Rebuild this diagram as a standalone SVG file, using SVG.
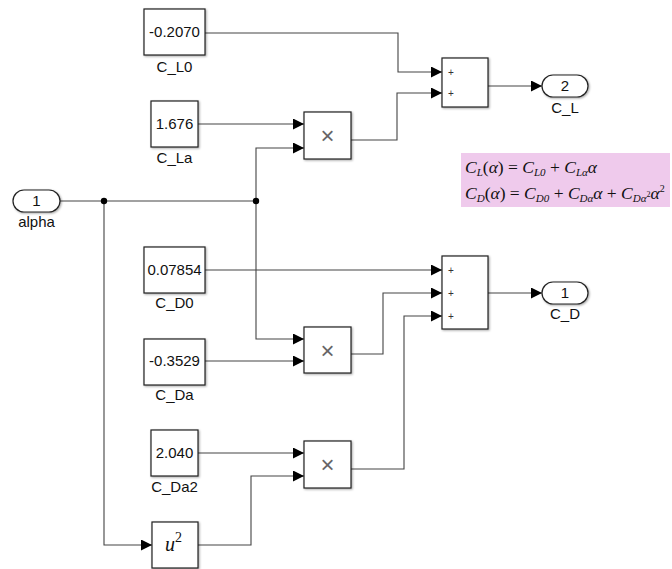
<svg xmlns="http://www.w3.org/2000/svg" width="672" height="569" viewBox="0 0 672 569">
<style>
.blk{fill:#fff;stroke:#222;stroke-width:1.2;filter:url(#sh)}
.port{fill:#fff;stroke:#222;stroke-width:1.2;filter:url(#sh)}
.t{font-family:"Liberation Sans",Arial,sans-serif;font-size:15px;fill:#111;text-anchor:middle}
.pl{font-family:"Liberation Sans",Arial,sans-serif;font-size:10px;fill:#333}
.x{font-family:"Liberation Sans",Arial,sans-serif;font-size:24px;fill:#666;text-anchor:middle;font-weight:300}
.w{fill:none;stroke:#444;stroke-width:1.1}
.eq{font-family:"Liberation Serif","Times New Roman",serif;font-size:17.5px;fill:#111}
.it{font-style:italic}
</style>
<defs>
<filter id="sh" x="-10%" y="-10%" width="130%" height="130%">
<feDropShadow dx="1" dy="1" stdDeviation="0.8" flood-color="#000" flood-opacity="0.35"/>
</filter>
<marker id="ar" markerUnits="userSpaceOnUse" markerWidth="11" markerHeight="11" refX="11" refY="5.5" orient="auto">
<path d="M0,0 L11,5.5 L0,11 z" fill="#000"/>
</marker>
</defs>
<rect width="672" height="569" fill="#fff"/>

<g id="connectors">
<path class="w" d="M205,33 H398 V72 H442" marker-end="url(#ar)"/>
<path class="w" d="M351,140 H397 V93 H442" marker-end="url(#ar)"/>
<path class="w" d="M488,86 H542" marker-end="url(#ar)"/>
<path class="w" d="M198,124 H304" marker-end="url(#ar)"/>
<path class="w" d="M60,201 H256"/>
<path class="w" d="M256,201 V148 H304" marker-end="url(#ar)"/>
<path class="w" d="M256,201 V339 H304" marker-end="url(#ar)"/>
<path class="w" d="M205,361 H304" marker-end="url(#ar)"/>
<path class="w" d="M205,270 H442" marker-end="url(#ar)"/>
<path class="w" d="M351,354 H383 V293 H442" marker-end="url(#ar)"/>
<path class="w" d="M351,469 H404 V316 H442" marker-end="url(#ar)"/>
<path class="w" d="M488,293 H542" marker-end="url(#ar)"/>
<path class="w" d="M198,453 H304" marker-end="url(#ar)"/>
<path class="w" d="M104,201 V545 H152" marker-end="url(#ar)"/>
<path class="w" d="M198,545 H251 V476 H304" marker-end="url(#ar)"/>
<circle cx="104" cy="201" r="3.2" fill="#000"/>
<circle cx="256" cy="201" r="3.2" fill="#000"/>
</g>

<g id="C_L0">
<rect class="blk" x="144" y="9" width="61" height="46"/>
<text class="t" x="174.5" y="37">-0.2070</text>
<text class="t" x="174.5" y="72">C_L0</text>
</g>
<g id="C_La">
<rect class="blk" x="151" y="101" width="47" height="46"/>
<text class="t" x="174.5" y="129">1.676</text>
<text class="t" x="174.5" y="163">C_La</text>
</g>
<g id="alpha">
<rect class="port" x="13" y="190" width="47" height="22" rx="11"/>
<text class="t" x="36.5" y="206">1</text>
<text class="t" x="36.5" y="227">alpha</text>
</g>
<g id="C_D0">
<rect class="blk" x="144" y="247" width="61" height="46"/>
<text class="t" x="174.5" y="275">0.07854</text>
<text class="t" x="174.5" y="308">C_D0</text>
</g>
<g id="C_Da">
<rect class="blk" x="144" y="339" width="61" height="46"/>
<text class="t" x="174.5" y="366">-0.3529</text>
<text class="t" x="174.5" y="400">C_Da</text>
</g>
<g id="C_Da2">
<rect class="blk" x="151" y="430" width="47" height="46"/>
<text class="t" x="174.5" y="458">2.040</text>
<text class="t" x="174.5" y="492">C_Da2</text>
</g>
<g id="square">
<rect class="blk" x="152" y="522" width="46" height="46"/>
<text class="eq" x="165" y="551" style="font-size:20px"><tspan class="it">u</tspan><tspan dy="-9" style="font-size:14px">2</tspan></text>
</g>
<g id="product1">
<rect class="blk" x="304" y="112" width="47" height="47"/>
<text class="x" x="327.5" y="144">×</text>
</g>
<g id="product2">
<rect class="blk" x="304" y="327" width="47" height="46"/>
<text class="x" x="327.5" y="359">×</text>
</g>
<g id="product3">
<rect class="blk" x="304" y="441" width="47" height="47"/>
<text class="x" x="327.5" y="473">×</text>
</g>
<g id="sum1">
<rect class="blk" x="442" y="58" width="46" height="49"/>
<text class="pl" x="448" y="76">+</text>
<text class="pl" x="448" y="97">+</text>
</g>
<g id="sum2">
<rect class="blk" x="442" y="256" width="46" height="73"/>
<text class="pl" x="448" y="274">+</text>
<text class="pl" x="448" y="297">+</text>
<text class="pl" x="448" y="320">+</text>
</g>
<g id="C_L">
<rect class="port" x="542" y="75" width="46" height="22" rx="11"/>
<text class="t" x="565" y="91">2</text>
<text class="t" x="565" y="113">C_L</text>
</g>
<g id="C_D">
<rect class="port" x="542" y="282" width="46" height="22" rx="11"/>
<text class="t" x="565" y="298">1</text>
<text class="t" x="565" y="319">C_D</text>
</g>
<g id="equation">
<rect x="461" y="153" width="209" height="54" fill="#efcaec"/>
<text class="eq" x="465" y="173"><tspan class="it">C</tspan><tspan class="it" dy="3" style="font-size:11px">L</tspan><tspan dy="-3">(</tspan><tspan class="it">α</tspan>) = <tspan class="it">C</tspan><tspan class="it" dy="3" style="font-size:11px">L0</tspan><tspan dy="-3"> + </tspan><tspan class="it">C</tspan><tspan class="it" dy="3" style="font-size:11px">Lα</tspan><tspan class="it" dy="-3">α</tspan></text>
<text class="eq" x="465" y="199"><tspan class="it">C</tspan><tspan class="it" dy="3" style="font-size:11px">D</tspan><tspan dy="-3">(</tspan><tspan class="it">α</tspan>) = <tspan class="it">C</tspan><tspan class="it" dy="3" style="font-size:11px">D0</tspan><tspan dy="-3"> + </tspan><tspan class="it">C</tspan><tspan class="it" dy="3" style="font-size:11px">Dα</tspan><tspan class="it" dy="-3">α</tspan> + <tspan class="it">C</tspan><tspan class="it" dy="3" style="font-size:11px">Dα</tspan><tspan dy="-5" style="font-size:8px">2</tspan><tspan class="it" dy="2">α</tspan><tspan dy="-7" style="font-size:10px">2</tspan></text>
</g>
</svg>
